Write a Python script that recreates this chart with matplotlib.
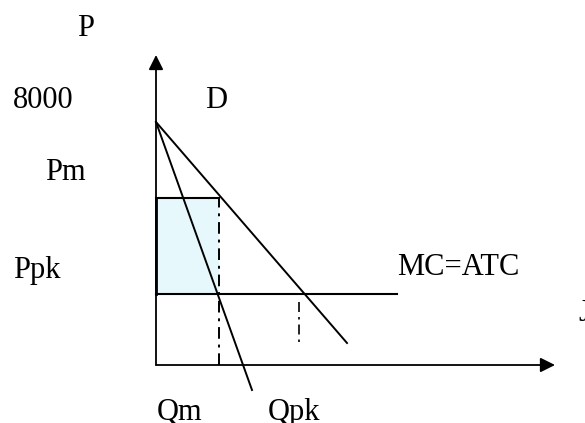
import matplotlib.pyplot as plt
from matplotlib.patches import Rectangle

# demand and marginal revenue lines (Q, P)
demand_q = [0, 191]
demand_p = [243, 22]
mr_q = [0, 96]
mr_p = [243, -25]

# monopoly / perfect competition points
q_m, p_m = 63, 167
q_pk, p_pk = 143, 71
mc_q = [0, 241]
q_pk_dash = [63, 22]

# axis extents
q_max, p_max = 399, 310

labels = ["P", "8000", "D", "Pm", "Ppk", "MC=ATC", "Qm", "Qpk", "J"]
label_pos = [(-79, 329), (-143, 257), (49, 257), (-111, 185), (-143, 87),
             (241, 90), (1, -55), (112, -55), (422, 44)]

plt.rcParams['font.family'] = ['Liberation Serif', 'DejaVu Serif']

fig = plt.figure(figsize=(5.85, 4.23), dpi=100)
ax = fig.add_axes([0, 0, 1, 1])
ax.set_xlim(-156, 429)
ax.set_ylim(-58, 365)
ax.axis('off')

# shaded monopoly profit rectangle
ax.add_patch(Rectangle((0, p_pk), q_m, p_m - p_pk, facecolor='#e6f8fc',
                       edgecolor='none', zorder=1))
ax.plot([0, q_m], [p_m, p_m], color='black', lw=1.5, zorder=2)
ax.plot([0, 0], [p_pk, p_m], color='black', lw=2, zorder=2)

# axes with arrows
ax.annotate('', xy=(0, p_max), xytext=(0, 0),
            arrowprops=dict(arrowstyle='-|>', color='black', lw=1.3,
                            mutation_scale=22, shrinkA=0, shrinkB=0))
ax.annotate('', xy=(q_max, 0), xytext=(0, 0),
            arrowprops=dict(arrowstyle='-|>', color='black', lw=1.3,
                            mutation_scale=22, shrinkA=0, shrinkB=0))

ax.plot(demand_q, demand_p, color='black', lw=1.4)
ax.plot(mr_q, mr_p, color='black', lw=1.4)
ax.plot(mc_q, [p_pk, p_pk], color='black', lw=1.5)

dash = (0, (6, 3, 1.5, 3))
ax.plot([q_m, q_m], [0, p_m], color='black', lw=1.4, linestyle=dash)
ax.plot([q_pk, q_pk], q_pk_dash, color='black', lw=1.2, linestyle=dash)

for txt, (x, y) in zip(labels, label_pos):
    ax.text(x, y, txt, fontsize=22, ha='left', va='baseline')

fig.savefig('out.png', dpi=100, facecolor='white')
